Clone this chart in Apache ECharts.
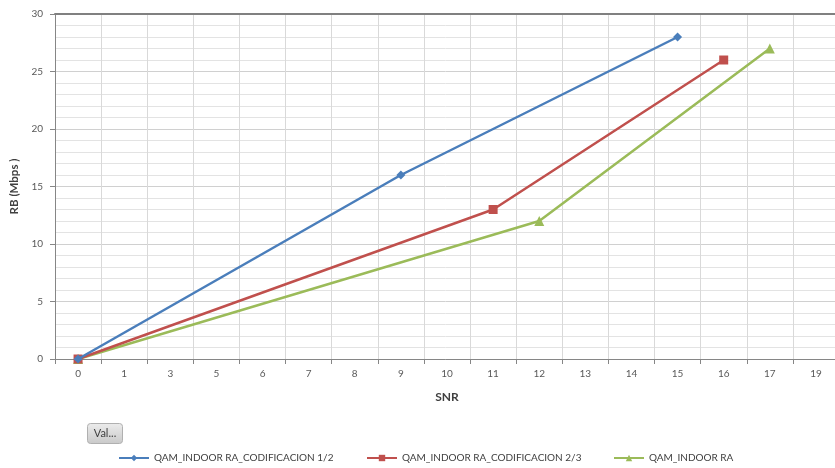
<!DOCTYPE html>
<html>
<head>
<meta charset="utf-8">
<script src="https://cdn.jsdelivr.net/npm/echarts@6/dist/echarts.min.js"></script>
<style>html,body{margin:0;padding:0;background:#fff}#c{width:835px;height:468px}</style>
</head>
<body>
<div id="c"></div>
<script>
// Data
var categories = ['0','1','3','5','6','7','8','9','10','11','12','13','14','15','16','17','19'];
var yTicks = [0, 5, 10, 15, 20, 25, 30];
var seriesNames = ['QAM_INDOOR RA_CODIFICACION 1/2', 'QAM_INDOOR RA_CODIFICACION 2/3', 'QAM_INDOOR RA'];
var s1X = ['0', '9', '15'];
var s1Y = [0, 16, 28];
var s2X = ['0', '11', '16'];
var s2Y = [0, 13, 26];
var s3X = ['0', '12', '17'];
var s3Y = [0, 12, 27];

function pairs(xs, ys) { return xs.map(function (x, i) { return [x, ys[i]]; }); }

var colors = ['#4A7EBB', '#C0504D', '#9BBB59'];
var symbols = ['diamond', 'rect', 'triangle'];
var symbolSizes = [9, 9, 10];
var font = 'Lato';

var chart = echarts.init(document.getElementById('c'), null, {renderer: 'canvas'});
var datas = [pairs(s1X, s1Y), pairs(s2X, s2Y), pairs(s3X, s3Y)];
var legendLefts = [113, 361, 608];

chart.setOption({
  animation: false,
  textStyle: {fontFamily: font},
  grid: {left: 55, width: 784, top: 14, height: 345, outerBoundsMode: 'none', containLabel: false},
  legend: seriesNames.map(function (n, i) {
    return {
      data: [n], left: legendLefts[i], top: 448, itemWidth: 30, itemHeight: 8, itemGap: 4,
      textStyle: {fontFamily: font, fontSize: 10, color: '#404040'}
    };
  }),
  xAxis: [{
    type: 'category',
    data: categories,
    boundaryGap: true,
    name: 'SNR',
    nameLocation: 'middle',
    nameGap: 32,
    nameTextStyle: {fontFamily: font, fontSize: 12, fontWeight: 'bold', color: '#404040'},
    axisLine: {lineStyle: {color: '#868686'}},
    axisTick: {show: true, length: 5, lineStyle: {color: '#868686'}},
    axisLabel: {fontSize: 10, color: '#595959', margin: 10, interval: 0},
    splitLine: {show: true, lineStyle: {color: '#d9d9d9'}}
  }, {
    type: 'category',
    data: categories,
    position: 'top',
    axisLine: {lineStyle: {color: '#808080', width: 2}},
    axisTick: {show: false},
    axisLabel: {show: false},
    splitLine: {show: false}
  }],
  yAxis: {
    type: 'value',
    min: yTicks[0],
    max: yTicks[yTicks.length - 1],
    interval: 5,
    name: 'RB (Mbps )',
    nameLocation: 'middle',
    nameGap: 32,
    nameRotate: 90,
    nameTextStyle: {fontFamily: font, fontSize: 11.5, fontWeight: 'bold', color: '#404040'},
    axisLine: {show: true, lineStyle: {color: '#868686'}},
    axisTick: {show: true, length: 5, lineStyle: {color: '#868686'}},
    axisLabel: {fontSize: 10, color: '#595959', margin: 12},
    splitLine: {show: true, lineStyle: {color: '#d0d0d0'}},
    minorTick: {show: false, splitNumber: 5},
    minorSplitLine: {show: true, lineStyle: {color: '#e3e3e3'}}
  },
  graphic: [{
    type: 'group', left: 87, top: 423,
    children: [{
      type: 'rect', shape: {x: 0, y: 0, width: 35, height: 20, r: 3},
      style: {
        fill: new echarts.graphic.LinearGradient(0, 0, 0, 1, [{offset: 0, color: '#ececec'}, {offset: 1, color: '#c9c9c9'}]),
        stroke: '#b0b0b0', lineWidth: 1
      }
    }, {
      type: 'text', x: 17.5, y: 10,
      style: {text: 'Val...', fontFamily: font, fontSize: 11, fill: '#404040', align: 'center', verticalAlign: 'middle'}
    }]
  }],
  series: seriesNames.map(function (n, i) {
    return {
      name: n, type: 'line', data: datas[i],
      symbol: symbols[i], symbolSize: symbolSizes[i], showAllSymbol: true,
      lineStyle: {color: colors[i], width: 2.5},
      itemStyle: {color: colors[i]},
      z: 3 - i
    };
  })
});
</script>
</body>
</html>
